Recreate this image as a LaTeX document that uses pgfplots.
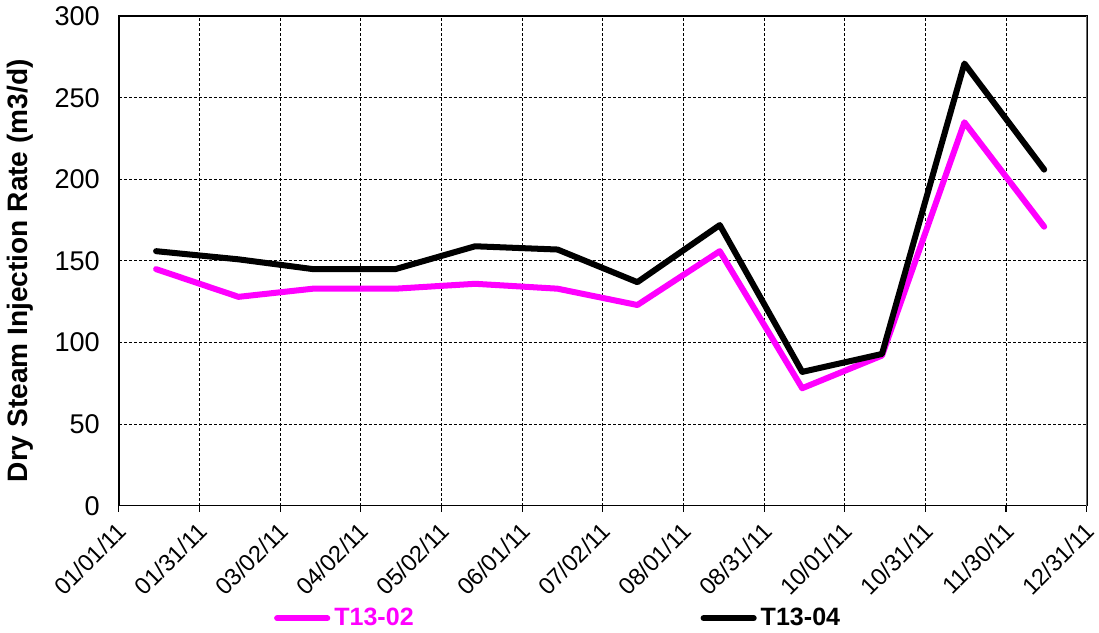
\documentclass[border=0pt]{standalone}
\usepackage{fontspec}
\setmainfont{Liberation Sans}
\usepackage{pgfplots}
\pgfplotsset{compat=1.18}
\definecolor{pinkline}{RGB}{255,0,255}
\begin{document}
\begin{tikzpicture}[font=\fontsize{12.5bp}{15bp}\selectfont]
\begin{axis}[
  scale only axis,
  width=482.5bp, height=244bp,
  xmin=0, xmax=364, ymin=0, ymax=300,
  xtick={0,30.3333,60.6667,91,121.3333,151.6667,182,212.3333,242.6667,273,303.3333,333.6667,364},
  xticklabels={01/01/11,01/31/11,03/02/11,04/02/11,05/02/11,06/01/11,07/02/11,08/01/11,08/31/11,10/01/11,10/31/11,11/30/11,12/31/11},
  x tick label style={rotate=45, anchor=north east, inner sep=1pt, xshift=-3bp, yshift=-1bp, font=\fontsize{11.8bp}{14bp}\selectfont},
  ytick={0,50,...,300},
  yticklabel style={font=\fontsize{13.5bp}{15bp}\selectfont, xshift=-3bp},
  /pgf/number format/assume math mode=true,
  xtick pos=bottom, tick align=outside,
  major tick length=3bp,
  ytick style={draw=none},
  xtick style={black, line width=0.6pt},
  grid=major,
  grid style={black, line width=0.5pt, dash pattern=on 1.5pt off 1pt},
  axis line style={black, line width=0.8pt},
  ylabel={\bfseries Dry Steam Injection Rate (m3/d)},
  ylabel style={at={(ticklabel cs:0.48)}, font=\fontsize{14bp}{16bp}\selectfont, yshift=4bp},
  legend style={at={(0.16,-0.2)}, anchor=north west, draw=none, fill=none,
    legend columns=2, inner sep=0pt,
    /tikz/every even column/.append style={column sep=141bp},
    font=\fontsize{12.5bp}{15bp}\selectfont\bfseries},
  legend image code/.code={\draw[#1, line cap=round] (0bp,0bp)--(25bp,0bp);},
  legend cell align=left,
]
\addplot[pinkline, line width=3bp, line join=round, line cap=round] coordinates {
 (14,145) (45,128) (73,133) (104,133) (134,136) (165,133) (195,123) (226,156) (257,72) (287,92) (318,235) (348,171)
};
\addlegendentry{\textcolor{pinkline}{T13-02}}
\addplot[black, line width=3bp, line join=round, line cap=round] coordinates {
 (14,156) (45,151) (73,145) (104,145) (134,159) (165,157) (195,137) (226,172) (257,82) (287,93) (318,271) (348,206)
};
\addlegendentry{T13-04}
\draw[gray!70, line width=1pt] (rel axis cs:1,0)--(rel axis cs:1,1);
\end{axis}
\end{tikzpicture}
\end{document}
